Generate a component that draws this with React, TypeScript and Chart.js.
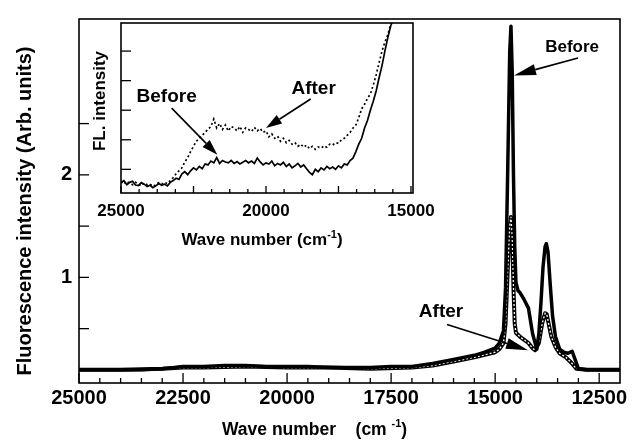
import React, { useEffect, useRef } from "react";
import { Chart, registerables } from "chart.js";
Chart.register(...registerables);

// ---------------- Main chart data ----------------
const mainXTicks = [25000, 22500, 20000, 17500, 15000, 12500];
const mainYTicks = [0.5, 1, 1.5, 2, 2.5];
const mainYLabels = [1, 2];

const mainBeforeX = [25000, 24500, 24000, 23500, 23000, 22750, 22500, 22000, 21500, 21000, 20500, 20000, 19500, 19000, 18500, 18000, 17500, 17000, 16500, 16000, 15500, 15250, 15000, 14900, 14800, 14750, 14700, 14650, 14620, 14590, 14560, 14530, 14500, 14450, 14400, 14300, 14200, 14100, 14000, 13950, 13900, 13850, 13800, 13770, 13730, 13680, 13620, 13550, 13450, 13350, 13250, 13150, 13080, 13000, 12800, 12500, 12000];
const mainBefore = [0.10, 0.10, 0.10, 0.10, 0.11, 0.12, 0.13, 0.13, 0.14, 0.14, 0.13, 0.13, 0.13, 0.12, 0.12, 0.12, 0.13, 0.13, 0.16, 0.20, 0.24, 0.27, 0.31, 0.36, 0.48, 0.90, 2.00, 3.20, 3.45, 3.00, 2.00, 1.30, 0.95, 0.87, 0.85, 0.78, 0.70, 0.45, 0.30, 0.45, 0.75, 1.10, 1.30, 1.33, 1.25, 0.95, 0.62, 0.42, 0.30, 0.27, 0.26, 0.28, 0.20, 0.11, 0.10, 0.10, 0.10];

const mainAfterX = [25000, 24000, 23000, 22500, 22000, 21000, 20000, 19000, 18000, 17000, 16500, 16000, 15500, 15000, 14900, 14800, 14750, 14700, 14650, 14620, 14590, 14560, 14530, 14500, 14400, 14300, 14200, 14100, 14040, 13950, 13870, 13800, 13760, 13700, 13650, 13550, 13450, 13300, 13150, 13050, 12800, 12000];
const mainAfter = [0.10, 0.10, 0.11, 0.12, 0.12, 0.13, 0.12, 0.12, 0.11, 0.12, 0.14, 0.18, 0.22, 0.27, 0.30, 0.36, 0.55, 1.05, 1.50, 1.59, 1.40, 0.90, 0.55, 0.46, 0.42, 0.39, 0.36, 0.31, 0.29, 0.36, 0.55, 0.65, 0.64, 0.52, 0.42, 0.32, 0.26, 0.22, 0.16, 0.11, 0.10, 0.10];

// ---------------- Inset data ----------------
const insetXTicks = [25000, 20000, 15000];
const insetYTicks = [1, 2, 3, 4, 5];
const insetX = [
  25000, 24900, 24800, 24700, 24600, 24500, 24400, 24300, 24200, 24100,
  24000, 23900, 23800, 23700, 23600, 23500, 23400, 23300, 23200, 23100,
  23000, 22900, 22800, 22700, 22600, 22500, 22400, 22300, 22200, 22100,
  22000, 21900, 21800, 21700, 21600, 21500, 21400, 21300, 21200, 21100,
  21000, 20900, 20800, 20700, 20600, 20500, 20400, 20300, 20200, 20100,
  20000, 19900, 19800, 19700, 19600, 19500, 19400, 19300, 19200, 19100,
  19000, 18900, 18800, 18700, 18600, 18500, 18400, 18300, 18200, 18100,
  18000, 17900, 17800, 17700, 17600, 17500, 17400, 17300, 17200, 17100,
  17000, 16900, 16800, 16700, 16600, 16500, 16400, 16300, 16200, 16100,
  16000, 15900, 15800, 15700, 15600, 15500, 15400, 15300, 15200, 15100,
  15000, 14900,
];
const insetBefore = [
  0.55, 0.62, 0.48, 0.56, 0.60, 0.47, 0.45, 0.55, 0.50, 0.42,
  0.46, 0.38, 0.44, 0.52, 0.46, 0.50, 0.44, 0.56, 0.62, 0.70,
  0.66, 0.85, 0.92, 0.82, 0.95, 1.05, 0.98, 1.10, 1.02, 1.18,
  1.15, 1.28, 1.22, 1.40, 1.20, 1.30, 1.25, 1.22, 1.30, 1.20,
  1.26, 1.18, 1.24, 1.30, 1.22, 1.28, 1.20, 1.38, 1.25, 1.15,
  1.22, 1.18, 1.28, 1.12, 1.20, 1.15, 1.24, 1.10, 1.18, 1.05,
  1.12, 1.20, 1.08, 1.15, 1.02, 0.90, 0.82, 1.00, 0.92, 1.05,
  0.98, 1.10, 1.02, 1.08, 1.00, 1.12, 1.05, 1.18, 1.15, 1.30,
  1.38, 1.60, 1.85, 2.05, 2.40, 2.65, 3.00, 3.30, 3.65, 4.10,
  4.50, 5.00, 5.45, 5.85, 6.10, 6.20, 6.00, 6.20, 6.05, 6.20,
  6.10, 6.10,
];
const insetAfter = [
  0.58, 0.50, 0.60, 0.52, 0.48, 0.56, 0.50, 0.44, 0.54, 0.48,
  0.50, 0.42, 0.48, 0.55, 0.50, 0.56, 0.52, 0.62, 0.72, 0.85,
  0.95, 1.05, 1.25, 1.40, 1.60, 1.78, 1.95, 2.05, 2.15, 2.25,
  2.35, 2.45, 2.70, 2.40, 2.55, 2.35, 2.50, 2.30, 2.45, 2.40,
  2.30, 2.45, 2.25, 2.40, 2.35, 2.28, 2.42, 2.30, 2.38, 2.25,
  2.30, 2.10, 2.20, 2.05, 2.12, 1.95, 2.05, 1.90, 1.98, 1.85,
  1.90, 1.78, 1.85, 1.75, 1.82, 1.70, 1.78, 1.68, 1.76, 1.72,
  1.80, 1.75, 1.85, 1.82, 1.90, 1.88, 2.00, 2.05, 2.15, 2.25,
  2.40, 2.50, 2.75, 3.05, 3.20, 3.40, 3.55, 3.85, 4.20, 4.60,
  5.00, 5.30, 5.55, 5.90, 6.10, 6.20, 6.05, 6.20, 6.00, 6.15,
  6.05, 6.10,
];

// ---------------- Annotations (data coordinates) ----------------
const mainNotes = [
  { text: "Before", size: 17, lx: 13150, ly: 3.24, fx: 13009, fy: 3.14, tx: 14547, ty: 2.97 },
  { text: "After", size: 19, lx: 16301, ly: 0.66, fx: 16157, fy: 0.54, tx: 14211, ty: 0.29 },
];
const insetNotes = [
  { text: "Before", size: 19, lx: 23425, ly: 3.45, fx: 23253, fy: 3.07, tx: 21678, ty: 1.49 },
  { text: "After", size: 19, lx: 18356, ly: 3.72, fx: 18459, fy: 3.38, tx: 20000, ty: 2.4 },
];

const FONT = "'Liberation Sans', Arial, Helvetica, sans-serif";
const toPoints = (xs: number[], ys: number[]) => xs.map((x, i) => ({ x, y: ys[i] }));

function line(ctx: CanvasRenderingContext2D, x1: number, y1: number, x2: number, y2: number) {
  ctx.beginPath();
  ctx.moveTo(x1, y1);
  ctx.lineTo(x2, y2);
  ctx.stroke();
}

function drawArrow(ctx: CanvasRenderingContext2D, x1: number, y1: number, x2: number, y2: number, headLen: number, headW: number) {
  const a = Math.atan2(y2 - y1, x2 - x1);
  const bx = x2 - headLen * Math.cos(a);
  const by = y2 - headLen * Math.sin(a);
  ctx.lineWidth = 1.6;
  line(ctx, x1, y1, bx, by);
  ctx.beginPath();
  ctx.moveTo(x2, y2);
  ctx.lineTo(bx + (headW / 2) * Math.sin(a), by - (headW / 2) * Math.cos(a));
  ctx.lineTo(bx - (headW / 2) * Math.sin(a), by + (headW / 2) * Math.cos(a));
  ctx.closePath();
  ctx.fill();
}

type Seg = { t: string; sup?: boolean };
function drawSegs(ctx: CanvasRenderingContext2D, segs: Seg[], x: number, y: number, size: number, align: "left" | "center") {
  const supSize = Math.round(size * 0.65);
  const widths = segs.map((s) => {
    ctx.font = `bold ${s.sup ? supSize : size}px ${FONT}`;
    return ctx.measureText(s.t).width;
  });
  const total = widths.reduce((a, b) => a + b, 0);
  let cx = align === "center" ? x - total / 2 : x;
  ctx.textAlign = "left";
  ctx.textBaseline = "middle";
  segs.forEach((s, i) => {
    ctx.font = `bold ${s.sup ? supSize : size}px ${FONT}`;
    ctx.fillText(s.t, cx, s.sup ? y - size * 0.32 : y);
    cx += widths[i];
  });
}

const mainPlugin = {
  id: "mainDecor",
  afterDraw(chart: any) {
    const { ctx, chartArea, scales } = chart;
    const { left, right, top, bottom } = chartArea;
    const x = scales.x;
    const y = scales.y;
    ctx.save();
    ctx.strokeStyle = "#000";
    ctx.fillStyle = "#000";
    ctx.lineWidth = 1.6;
    ctx.strokeRect(left, top, right - left, bottom - top);
    ctx.lineWidth = 1.3;
    mainXTicks.forEach((v) => {
      const px = x.getPixelForValue(v);
      line(ctx, px, bottom, px, bottom - 10);
    });
    for (let v = 12500; v < 25000; v += 500) {
      if (v % 2500 === 0) continue;
      const px = x.getPixelForValue(v);
      line(ctx, px, bottom, px, bottom - 5);
    }
    mainYTicks.forEach((v) => {
      const py = y.getPixelForValue(v);
      line(ctx, left, py, left + 10, py);
    });
    // axis titles
    drawSegs(ctx, [{ t: "Wave number    (cm " }, { t: "-1", sup: true }, { t: ")" }], 222, 430, 17.5, "left");
    ctx.save();
    ctx.translate(25, 211);
    ctx.rotate(-Math.PI / 2);
    ctx.font = `bold 20px ${FONT}`;
    ctx.textAlign = "center";
    ctx.textBaseline = "middle";
    ctx.fillText("Fluorescence intensity (Arb. units)", 0, 0);
    ctx.restore();
    // annotations
    mainNotes.forEach((n) => {
      ctx.font = `bold ${n.size}px ${FONT}`;
      ctx.textAlign = "center";
      ctx.textBaseline = "middle";
      ctx.fillText(n.text, x.getPixelForValue(n.lx), y.getPixelForValue(n.ly));
      drawArrow(ctx, x.getPixelForValue(n.fx), y.getPixelForValue(n.fy), x.getPixelForValue(n.tx), y.getPixelForValue(n.ty), 22, 11);
    });
    ctx.restore();
  },
};

const insetPlugin = {
  id: "insetDecor",
  afterDraw(chart: any) {
    const { ctx, chartArea, scales } = chart;
    const { left, right, top, bottom } = chartArea;
    const x = scales.x;
    const y = scales.y;
    ctx.save();
    ctx.strokeStyle = "#000";
    ctx.fillStyle = "#000";
    ctx.lineWidth = 1.6;
    ctx.strokeRect(left, top, right - left, bottom - top);
    ctx.lineWidth = 1.3;
    for (let v = 15000; v <= 25000; v += 625) {
      const px = x.getPixelForValue(v);
      line(ctx, px, bottom, px, bottom - (v % 2500 === 0 ? 7 : 4));
    }
    insetYTicks.forEach((v) => {
      const py = y.getPixelForValue(v);
      line(ctx, left, py, left + 10, py);
    });
    drawSegs(ctx, [{ t: "Wave number (cm" }, { t: "-1", sup: true }, { t: ")" }], 262, 240, 17, "center");
    ctx.save();
    ctx.translate(100, 101);
    ctx.rotate(-Math.PI / 2);
    ctx.font = `bold 17px ${FONT}`;
    ctx.textAlign = "center";
    ctx.textBaseline = "middle";
    ctx.fillText("FL. intensity", 0, 0);
    ctx.restore();
    insetNotes.forEach((n) => {
      ctx.font = `bold ${n.size}px ${FONT}`;
      ctx.textAlign = "center";
      ctx.textBaseline = "middle";
      ctx.fillText(n.text, x.getPixelForValue(n.lx), y.getPixelForValue(n.ly));
      drawArrow(ctx, x.getPixelForValue(n.fx), y.getPixelForValue(n.fy), x.getPixelForValue(n.tx), y.getPixelForValue(n.ty), 16, 10);
    });
    ctx.restore();
  },
};

const tickFont = (size: number) => ({ family: FONT, size, weight: "bold" as const });

export default function App() {
  const mainRef = useRef<HTMLCanvasElement>(null);
  const insetRef = useRef<HTMLCanvasElement>(null);

  useEffect(() => {
    const main = new Chart(mainRef.current!, {
      type: "line",
      data: {
        datasets: [
          { label: "Before", data: toPoints(mainBeforeX, mainBefore), borderColor: "#000", borderWidth: 3.5, pointRadius: 0, tension: 0, borderJoinStyle: "round", order: 0 },
          { label: "After", data: toPoints(mainAfterX, mainAfter), borderColor: "#fff", borderWidth: 1.3, borderDash: [2, 2], pointRadius: 0, tension: 0, order: 1 },
          { label: "After outline", data: toPoints(mainAfterX, mainAfter), borderColor: "#000", borderWidth: 4, pointRadius: 0, tension: 0, borderJoinStyle: "round", order: 2 },
        ],
      },
      options: {
        responsive: false,
        animation: false,
        events: [],
        layout: { padding: { left: 0, right: 14, top: 10, bottom: 0 } },
        plugins: { legend: { display: false }, tooltip: { enabled: false } },
        scales: {
          x: {
            type: "linear",
            reverse: true,
            min: 12000,
            max: 25000,
            afterBuildTicks: (s: any) => { s.ticks = mainXTicks.map((v) => ({ value: v })); },
            afterFit: (s: any) => { s.height = 59; },
            grid: { display: false, drawTicks: false },
            border: { display: false },
            ticks: { padding: 3, color: "#000", font: tickFont(20), maxRotation: 0, autoSkip: false, callback: (v: any) => String(v) },
          },
          y: {
            type: "linear",
            min: -0.03,
            max: 3.52,
            afterBuildTicks: (s: any) => { s.ticks = mainYLabels.map((v) => ({ value: v })); },
            afterFit: (s: any) => { s.width = 79; },
            grid: { display: false, drawTicks: false },
            border: { display: false },
            ticks: { padding: 7, color: "#000", font: tickFont(20), callback: (v: any) => String(v) },
          },
        },
      },
      plugins: [mainPlugin],
    } as any);

    const inset = new Chart(insetRef.current!, {
      type: "line",
      data: {
        datasets: [
          { label: "Before", data: toPoints(insetX, insetBefore), borderColor: "#000", borderWidth: 1.7, pointRadius: 0, tension: 0, order: 0 },
          { label: "After", data: toPoints(insetX, insetAfter), borderColor: "#000", borderWidth: 1.7, borderDash: [2, 2.5], pointRadius: 0, tension: 0, order: 1 },
        ],
      },
      options: {
        responsive: false,
        animation: false,
        events: [],
        layout: { padding: { left: 0, right: 221, top: 23, bottom: 0 } },
        plugins: { legend: { display: false }, tooltip: { enabled: false } },
        scales: {
          x: {
            type: "linear",
            reverse: true,
            min: 14930,
            max: 25000,
            afterBuildTicks: (s: any) => { s.ticks = insetXTicks.map((v) => ({ value: v })); },
            afterFit: (s: any) => { s.height = 249; },
            grid: { display: false, drawTicks: false },
            border: { display: false },
            ticks: { padding: 8, color: "#000", font: tickFont(17), maxRotation: 0, autoSkip: false, callback: (v: any) => String(v) },
          },
          y: {
            type: "linear",
            min: 0.2,
            max: 5.95,
            afterBuildTicks: (s: any) => { s.ticks = insetYTicks.map((v) => ({ value: v })); },
            afterFit: (s: any) => { s.width = 121; },
            grid: { display: false, drawTicks: false },
            border: { display: false },
            ticks: { display: false },
          },
        },
      },
      plugins: [insetPlugin],
    } as any);

    return () => {
      main.destroy();
      inset.destroy();
    };
  }, []);

  return (
    <div style={{ position: "fixed", left: 0, top: 0, width: 634, height: 442, background: "#fff" }}>
      <canvas ref={mainRef} width={634} height={442} style={{ position: "absolute", left: 0, top: 0, width: 634, height: 442 }} />
      <canvas ref={insetRef} width={634} height={442} style={{ position: "absolute", left: 0, top: 0, width: 634, height: 442 }} />
    </div>
  );
}
